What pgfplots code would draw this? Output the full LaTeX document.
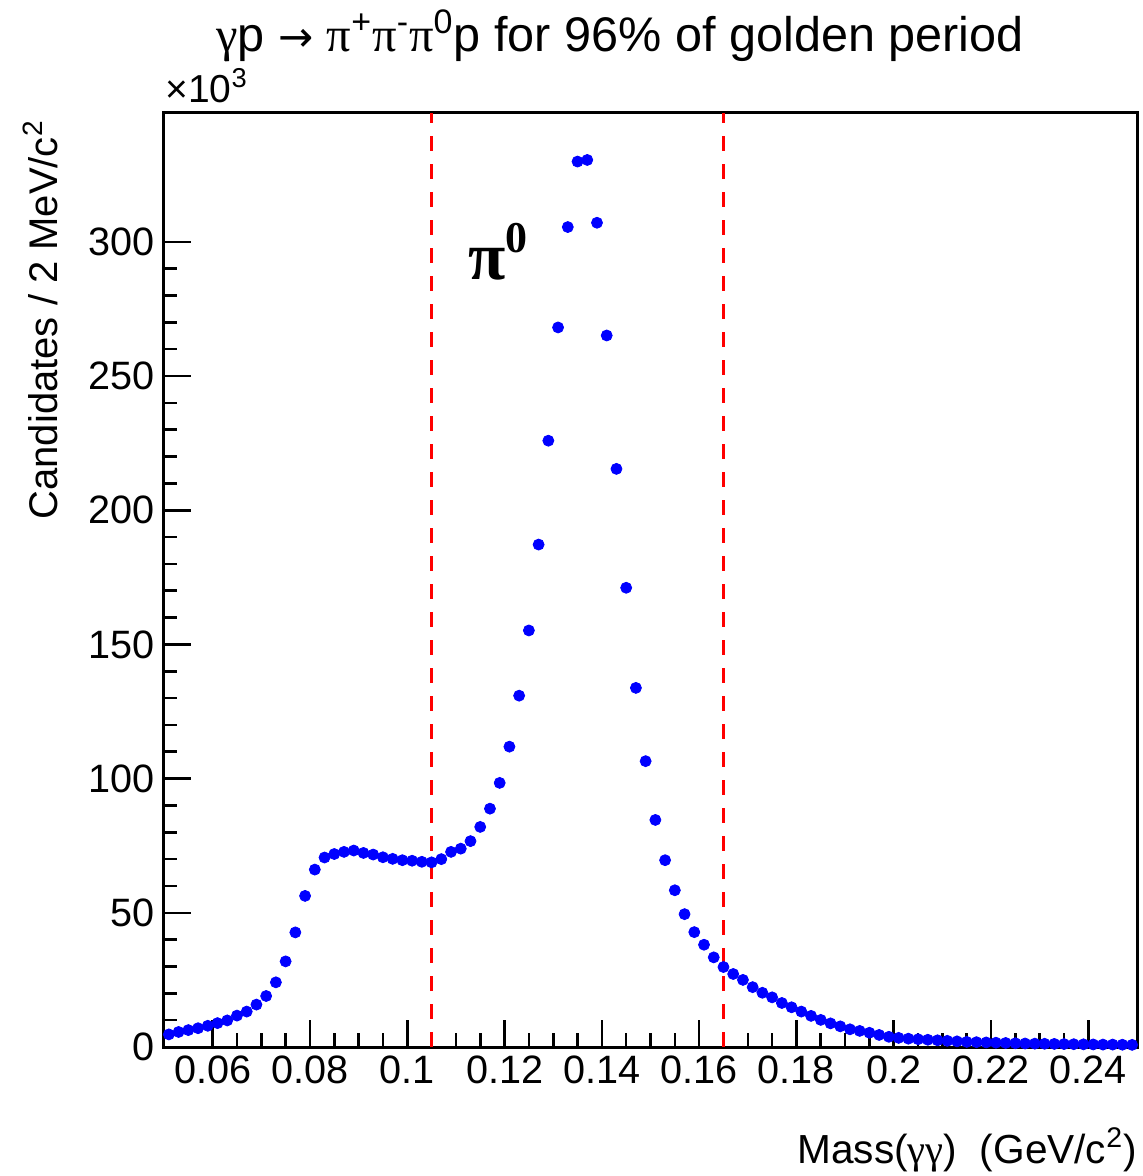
\documentclass[border=0pt]{standalone}
\usepackage{fontspec}
\setmainfont{Liberation Sans}
\newfontfamily\greek{Liberation Serif}
\newfontfamily\arrowfont{DejaVu Sans}
\usepackage{pgfplots}
\pgfplotsset{compat=1.18}

% two-photon invariant mass, 2 MeV bins, counts in units of 10^3
\pgfplotstableread{
m      n
0.051  4.7
0.053  5.6
0.055  6.3
0.057  7.0
0.059  7.9
0.061  8.9
0.063  9.9
0.065  11.7
0.067  13.2
0.069  15.8
0.071  19.0
0.073  24.1
0.075  31.9
0.077  42.7
0.079  56.3
0.081  66.1
0.083  70.6
0.085  71.9
0.087  72.7
0.089  73.2
0.091  72.3
0.093  71.7
0.095  70.7
0.097  70.1
0.099  69.6
0.101  69.4
0.103  69.0
0.105  68.8
0.107  70.0
0.109  72.7
0.111  73.9
0.113  76.7
0.115  82.0
0.117  88.8
0.119  98.4
0.121  111.9
0.123  130.9
0.125  155.2
0.127  187.2
0.129  225.9
0.131  268.1
0.133  305.5
0.135  329.9
0.137  330.5
0.139  307.1
0.141  265.1
0.143  215.4
0.145  171.1
0.147  133.8
0.149  106.5
0.151  84.6
0.153  69.6
0.155  58.4
0.157  49.5
0.159  42.8
0.161  38.1
0.163  33.4
0.165  29.8
0.167  27.2
0.169  25.0
0.171  22.3
0.173  20.2
0.175  18.5
0.177  16.4
0.179  14.8
0.181  13.2
0.183  11.6
0.185  10.1
0.187  8.8
0.189  7.7
0.191  6.6
0.193  6.0
0.195  5.3
0.197  4.5
0.199  3.8
0.201  3.4
0.203  3.1
0.205  2.9
0.207  2.7
0.209  2.5
0.211  2.3
0.213  2.1
0.215  1.9
0.217  1.8
0.219  1.7
0.221  1.6
0.223  1.5
0.225  1.4
0.227  1.3
0.229  1.25
0.231  1.2
0.233  1.15
0.235  1.1
0.237  1.05
0.239  1.0
0.241  0.95
0.243  0.9
0.245  0.9
0.247  0.85
0.249  0.8
}\spectrum

% signal window edges
\pgfplotstableread{
x      y
0.105  0
0.105  348
}\cutlow
\pgfplotstableread{
x      y
0.165  0
0.165  348
}\cuthigh

\begin{document}
\begin{tikzpicture}
\useasboundingbox (-82pt,-64.5pt) rectangle (489.5pt,523.5pt);
\begin{axis}[
  at={(0pt,0pt)}, anchor=south west,
  scale only axis, width=486.5pt, height=467pt,
  xmin=0.05, xmax=0.25, ymin=0, ymax=348,
  axis line style={line width=1.5pt},
  xtick={0.06,0.08,0.10,0.12,0.14,0.16,0.18,0.20,0.22,0.24},
  xticklabels={0.06,0.08,0.1,0.12,0.14,0.16,0.18,0.2,0.22,0.24},
  minor x tick num=3,
  ytick={0,50,100,150,200,250,300},
  minor y tick num=4,
  tick pos=left,
  tick align=inside,
  major tick length=13.5pt,
  minor tick length=6.75pt,
  every tick/.style={black, line width=1.3pt},
  /pgf/number format/assume math mode=true,
  tick label style={font=\fontsize{19.8}{23}\selectfont},
  yticklabel style={inner sep=0pt, xshift=-4.5pt},
  xticklabel style={inner sep=0pt, yshift=-4pt},
  clip=false,
]
\addplot[color=red, line width=1.5pt, dash pattern=on 7.5pt off 6.5pt] table[x=x,y=y] {\cutlow};
\addplot[color=red, line width=1.5pt, dash pattern=on 7.5pt off 6.5pt] table[x=x,y=y] {\cuthigh};
\addplot[only marks, mark=*, mark size=2.75pt, color=blue, fill=blue] table[x=m,y=n] {\spectrum};
\node[anchor=base west, inner sep=0pt] at (axis cs:0.1125,286)
  {\fontsize{34}{38}\selectfont\greek\bfseries π\raisebox{0.40em}{\fontsize{22}{24}\selectfont 0}};
\end{axis}
% title, axis labels and the power-of-ten factor
\node[anchor=base, inner sep=0pt, font=\fontsize{24.3}{28}\selectfont] at (228pt,497.5pt)
  {{\greek γ}p {\arrowfont\fontsize{21}{24}\selectfont →} {\greek π}\textsuperscript{+}{\greek π}\textsuperscript{-}{\greek π}\textsuperscript{0}p for 96\% of golden period};
\node[anchor=base west, inner sep=0pt, font=\fontsize{19.5}{23}\selectfont] at (0.5pt,472pt)
  {×10\textsuperscript{3}};
\node[rotate=90, anchor=base east, inner sep=0pt, font=\fontsize{20}{24}\selectfont] at (-53pt,463.5pt)
  {Candidates / 2 MeV/c\textsuperscript{2}};
\node[anchor=base east, inner sep=0pt, font=\fontsize{20.3}{24}\selectfont] at (486.5pt,-58pt)
  {Mass({\greek γγ})\ \ (GeV/c\textsuperscript{2})};
\end{tikzpicture}
\end{document}
